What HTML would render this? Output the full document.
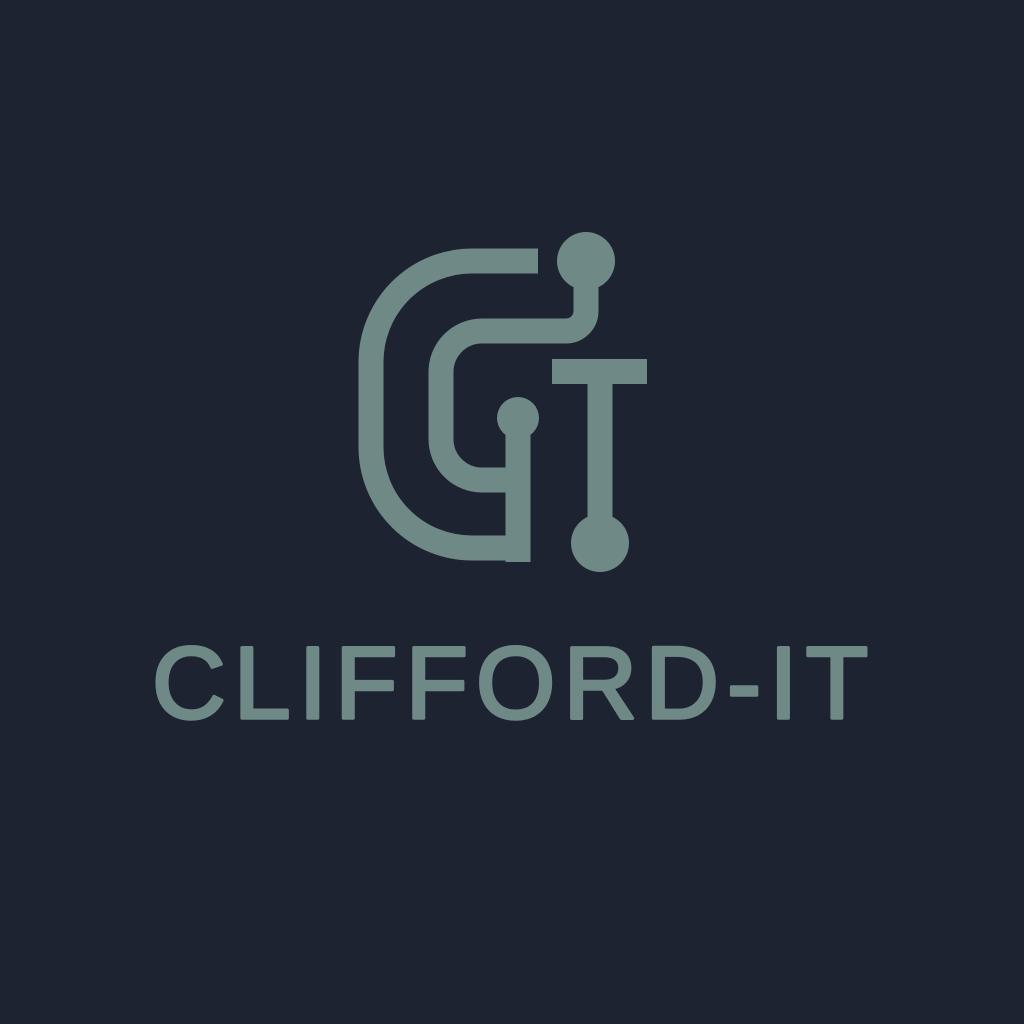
<!DOCTYPE html>
<html>
<head>
<meta charset="utf-8">
<style>
  html,body{margin:0;padding:0;background:#1d2330;}
  svg{display:block;}
</style>
</head>
<body>
<svg width="1024" height="1024" viewBox="0 0 1024 1024">
  <rect width="1024" height="1024" fill="#1d2330"/>
  <g fill="none" stroke="#6f8987" stroke-width="25" stroke-linecap="butt">
    <path d="M538,261 H472 A101,101 0 0 0 371,362 V447 A101,101 0 0 0 472,548 H530"/>
    <path d="M530,480 H482 A41,41 0 0 1 441,439 V372 A41,41 0 0 1 482,331 H566 A20,20 0 0 0 586,311 V262"/>
    <path d="M518,417 V562"/>
    <path d="M600,372 V543"/>
  </g>
  <g fill="#6f8987">
    <rect x="552" y="359" width="95" height="25"/>
    <circle cx="586" cy="261" r="29"/>
    <circle cx="518" cy="418" r="21"/>
    <circle cx="600" cy="543" r="29"/>
  </g>
  <text x="152" y="718" textLength="716" lengthAdjust="spacing" font-family="'Liberation Sans', sans-serif" font-weight="normal" font-size="102" fill="#6f8987" stroke="#6f8987" stroke-width="3.5" stroke-linejoin="round">CLIFFORD-IT</text>
</svg>
</body>
</html>
